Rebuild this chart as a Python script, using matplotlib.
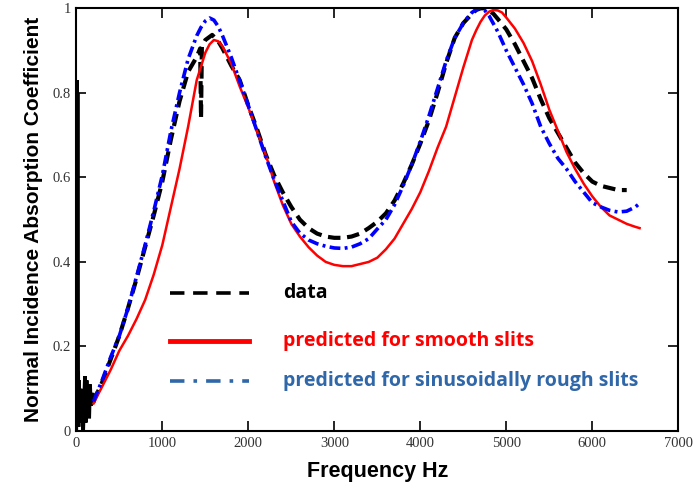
import matplotlib
matplotlib.use("Agg")
import matplotlib.pyplot as plt

# measured data: low-frequency noisy part (drawn solid) and main part
data_noise_f = [0, 5, 8, 12, 15, 18, 22, 26, 30, 40, 50, 60, 70, 80, 90, 100, 110,
                120, 130, 140, 150, 160, 170, 180, 190, 200]
data_noise_a = [0.0, 0.40, 0.83, 0.02, 0.80, 0.05, 0.14, 0.01, 0.12, 0.02, 0.10, 0.03,
                0.09, 0.0, 0.07, 0.13, 0.02, 0.12, 0.04, 0.10, 0.03, 0.11, 0.06, 0.08,
                0.09, 0.07]

data_f = [200, 300, 400, 500, 600, 700, 800, 900, 1000, 1100, 1200, 1300, 1400,
          1440, 1450, 1460, 1500, 1580, 1650, 1700, 1800, 1900, 2000, 2100, 2200,
          2300, 2400, 2500, 2600, 2700, 2800, 2900, 3000, 3100, 3200, 3300, 3400,
          3500, 3600, 3700, 3800, 3900, 4000, 4100, 4200, 4300, 4400, 4500, 4600,
          4650, 4700, 4750, 4800, 4850, 4900, 5000, 5100, 5200, 5300, 5400, 5500,
          5600, 5700, 5800, 5900, 6000, 6100, 6200, 6300, 6400]
data_a = [0.07, 0.115, 0.17, 0.225, 0.29, 0.36, 0.435, 0.51, 0.59, 0.69, 0.78, 0.85,
          0.885, 0.905, 0.74, 0.91, 0.925, 0.937, 0.922, 0.905, 0.865, 0.83, 0.77,
          0.715, 0.655, 0.605, 0.565, 0.53, 0.50, 0.48, 0.467, 0.46, 0.457, 0.457,
          0.46, 0.467, 0.48, 0.495, 0.515, 0.545, 0.585, 0.63, 0.68, 0.735, 0.80,
          0.87, 0.93, 0.965, 0.987, 0.996, 1.0, 1.0, 0.995, 0.987, 0.975, 0.95,
          0.915, 0.875, 0.835, 0.785, 0.74, 0.705, 0.67, 0.635, 0.61, 0.59, 0.58,
          0.575, 0.57, 0.57]

smooth_f = [200, 300, 400, 500, 600, 700, 800, 900, 1000, 1100, 1200, 1300, 1400,
            1500, 1550, 1600, 1650, 1700, 1800, 1900, 2000, 2100, 2200, 2300, 2400,
            2500, 2600, 2700, 2800, 2900, 3000, 3100, 3200, 3300, 3400, 3500, 3600,
            3700, 3800, 3900, 4000, 4100, 4200, 4300, 4400, 4500, 4600, 4650, 4700,
            4750, 4800, 4850, 4900, 4950, 5000, 5100, 5200, 5300, 5400, 5500, 5600,
            5700, 5800, 5900, 6000, 6100, 6200, 6300, 6400, 6500, 6550]
smooth_a = [0.065, 0.105, 0.145, 0.19, 0.225, 0.265, 0.31, 0.37, 0.44, 0.53, 0.62,
            0.72, 0.83, 0.895, 0.915, 0.925, 0.922, 0.91, 0.87, 0.815, 0.765, 0.71,
            0.655, 0.59, 0.535, 0.49, 0.46, 0.435, 0.415, 0.40, 0.393, 0.39, 0.39,
            0.395, 0.40, 0.41, 0.43, 0.455, 0.49, 0.525, 0.565, 0.615, 0.67, 0.72,
            0.79, 0.86, 0.925, 0.948, 0.968, 0.983, 0.992, 0.996, 0.995, 0.99, 0.978,
            0.952, 0.918, 0.875, 0.82, 0.76, 0.71, 0.66, 0.62, 0.585, 0.555, 0.53,
            0.51, 0.50, 0.49, 0.483, 0.48]

rough_f = [200, 300, 400, 500, 600, 700, 800, 900, 1000, 1100, 1200, 1300, 1400,
           1450, 1500, 1550, 1600, 1650, 1700, 1800, 1900, 2000, 2100, 2200, 2300,
           2400, 2500, 2600, 2700, 2800, 2900, 3000, 3100, 3200, 3300, 3400, 3500,
           3600, 3700, 3800, 3900, 4000, 4100, 4200, 4300, 4400, 4500, 4550, 4600,
           4650, 4700, 4750, 4800, 4900, 5000, 5100, 5200, 5300, 5400, 5500, 5600,
           5700, 5800, 5900, 6000, 6100, 6200, 6300, 6400, 6500, 6560]
rough_a = [0.07, 0.12, 0.175, 0.225, 0.29, 0.365, 0.44, 0.52, 0.605, 0.71, 0.80,
           0.88, 0.935, 0.955, 0.97, 0.977, 0.972, 0.957, 0.935, 0.885, 0.828, 0.77,
           0.71, 0.65, 0.595, 0.545, 0.495, 0.468, 0.452, 0.443, 0.437, 0.433,
           0.432, 0.435, 0.443, 0.455, 0.478, 0.50, 0.535, 0.58, 0.63, 0.685, 0.745,
           0.81, 0.875, 0.93, 0.965, 0.978, 0.99, 0.997, 1.0, 0.995, 0.982, 0.945,
           0.90, 0.86, 0.82, 0.775, 0.72, 0.68, 0.645, 0.62, 0.59, 0.565, 0.54,
           0.53, 0.522, 0.518, 0.52, 0.53, 0.54]

labels = ["data", "predicted for smooth slits", "predicted for sinusoidally rough slits"]
label_colors = ["black", "#ff0000", "#2f67a8"]
x_ticks = [0, 1000, 2000, 3000, 4000, 5000, 6000, 7000]
y_ticks = [0, 0.2, 0.4, 0.6, 0.8, 1]
y_tick_labels = ["0", "0.2", "0.4", "0.6", "0.8", "1"]

fig = plt.figure(figsize=(6.97, 4.88), dpi=100)
ax = fig.add_axes([0.1095, 0.1168, 0.8637, 0.8662])

ax.plot(data_noise_f, data_noise_a, color="black", lw=2.6, solid_joinstyle="miter")
ax.plot(data_f, data_a, color="black", lw=3.0, ls=(0, (3, 1.6)))
ax.plot(smooth_f, smooth_a, color="#ff0000", lw=1.8)
ax.plot(rough_f, rough_a, color="#0000ff", lw=2.6, ls=(0, (3, 1.2, 0.8, 1.2)))

ax.set_xlim(0, 7000)
ax.set_ylim(0, 1)
ax.set_xticks(x_ticks)
ax.set_yticks(y_ticks)
ax.set_yticklabels(y_tick_labels)
ax.tick_params(direction="in", length=7, width=1.2, top=True, right=True,
               labelsize=10.5, labelcolor="#333333", pad=4)
for lab in ax.get_xticklabels() + ax.get_yticklabels():
    lab.set_family("Liberation Serif")
for sp in ax.spines.values():
    sp.set_linewidth(1.5)

ax.set_xlabel("Frequency Hz", family="Liberation Sans", fontweight="bold",
              fontsize=15.5, labelpad=8)
ax.set_ylabel("Normal Incidence Absorption Coefficient", family="Liberation Sans",
              fontweight="bold", fontsize=15, labelpad=7)

# hand-drawn legend inside the axes
leg_y = [0.326, 0.213, 0.118]
leg_styles = [dict(color="black", lw=2.6, ls=(0, (4, 2.4))),
              dict(color="#ff0000", lw=3.5, ls="-"),
              dict(color="#2f67a8", lw=2.6, ls=(0, (4, 2.5, 1, 2.5)))]
for y, lab, col, st in zip(leg_y, labels, label_colors, leg_styles):
    ax.plot([1090, 2010], [y, y], **st)
    ax.text(2400, y, lab, color=col, fontsize=14, fontweight="bold",
            family="Open Sans", va="center", ha="left")

fig.savefig("out.png", dpi=100)
